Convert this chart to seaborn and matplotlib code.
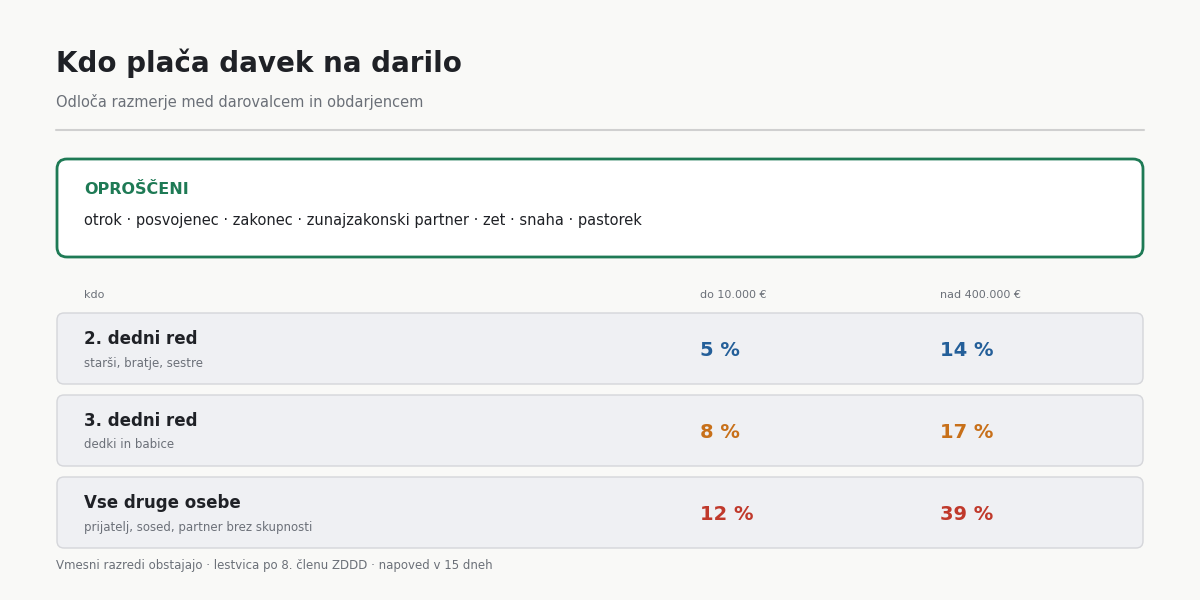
import seaborn as sns
import matplotlib.pyplot as plt
from matplotlib.patches import FancyBboxPatch

sns.set_theme(style="white")
plt.rcParams['font.family'] = 'sans-serif'
plt.rcParams['font.sans-serif'] = ['DejaVu Sans']
FAM = "DejaVu Sans"

title = "Kdo plača davek na darilo"
subtitle = "Odloča razmerje med darovalcem in obdarjencem"
exempt_label = "OPROŠČENI"
exempt = ["otrok", "posvojenec", "zakonec", "zunajzakonski partner", "zet", "snaha", "pastorek"]
col_heads = ["kdo", "do 10.000 €", "nad 400.000 €"]
groups = ["2. dedni red", "3. dedni red", "Vse druge osebe"]
members = ["starši, bratje, sestre", "dedki in babice", "prijatelj, sosed, partner brez skupnosti"]
rate_low = [5, 8, 12]
rate_high = [14, 17, 39]
colors = ["#245f99", "#c87019", "#c0392b"]
footer = "Vmesni razredi obstajajo · lestvica po 8. členu ZDDD · napoved v 15 dneh"

fig = plt.figure(figsize=(12, 6), dpi=100, facecolor="#f9f9f7")
ax = fig.add_axes([0, 0, 1, 1])
ax.set_xlim(0, 1200)
ax.set_ylim(600, 0)
ax.axis("off")

ax.text(56, 63, title, fontsize=20, fontweight="bold", color="#1f2126", va="center", family=FAM)
ax.text(56, 102, subtitle, fontsize=10.5, color="#6b7078", va="center", family=FAM)
ax.plot([56, 1144], [130, 130], color="#d0d0d0", lw=1.5)

ax.add_patch(FancyBboxPatch((57, 159), 1086, 98, boxstyle="round,pad=0,rounding_size=10",
                            fc="white", ec="#1e7a55", lw=2))
ax.text(84, 189, exempt_label, fontsize=11.5, fontweight="bold", color="#1e7a55", va="center", family=FAM)
ax.text(84, 220, " · ".join(exempt), fontsize=10.5, color="#1f2126", va="center", family=FAM)

xs = [84, 700, 940]
for x, h in zip(xs, col_heads):
    ax.text(x, 295, h, fontsize=8, color="#6b7078", va="center", family=FAM)

for i, (g, m, lo, hi, c) in enumerate(zip(groups, members, rate_low, rate_high, colors)):
    y0 = 313 + i * 82
    ax.add_patch(FancyBboxPatch((57, y0), 1086, 71, boxstyle="round,pad=0,rounding_size=7",
                                fc="#eff0f3", ec="#d5d6da", lw=1))
    ax.text(84, y0 + 26, g, fontsize=12, fontweight="bold", color="#1f2126", va="center", family=FAM)
    ax.text(84, y0 + 50, m, fontsize=8.5, color="#6b7078", va="center", family=FAM)
    ax.text(xs[1], y0 + 38, f"{lo} %", fontsize=14, fontweight="bold", color=c, va="center", family=FAM)
    ax.text(xs[2], y0 + 38, f"{hi} %", fontsize=14, fontweight="bold", color=c, va="center", family=FAM)

ax.text(56, 566, footer, fontsize=8.5, color="#6b7078", va="center", family=FAM)

fig.savefig("out.png", dpi=100, facecolor=fig.get_facecolor())
